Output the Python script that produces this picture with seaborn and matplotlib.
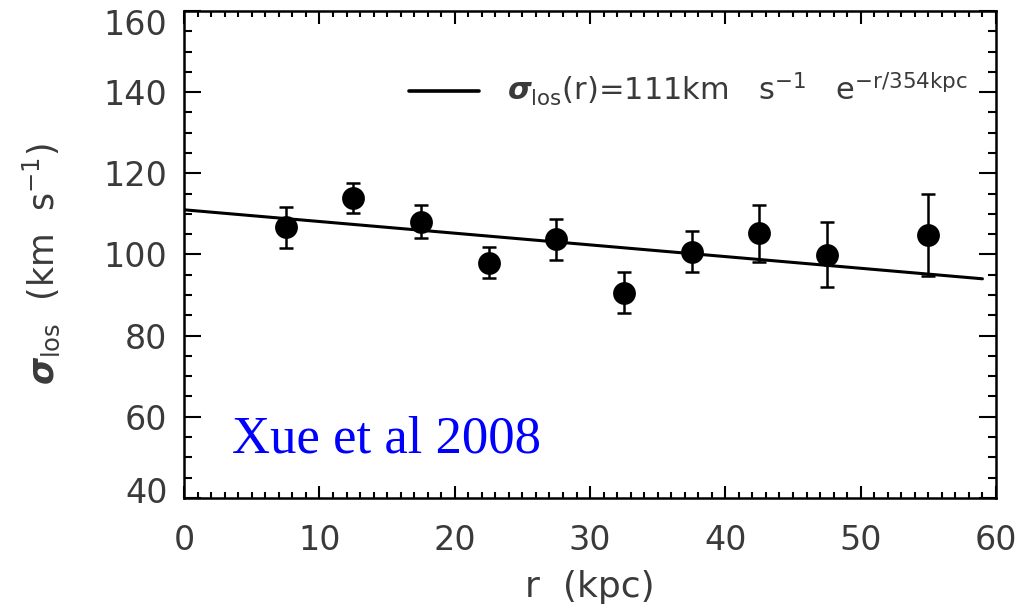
import numpy as np
import pandas as pd
import matplotlib
matplotlib.use("Agg")
import matplotlib.pyplot as plt
import matplotlib.transforms as mtransforms
import seaborn as sns
from matplotlib.ticker import MultipleLocator
from matplotlib.lines import Line2D

# ---- data ----
r_kpc = [7.5, 12.5, 17.5, 22.5, 27.5, 32.5, 37.5, 42.5, 47.5, 55.0]
sigma_los = [106.7, 113.9, 108.1, 98.0, 103.7, 90.6, 100.7, 105.2, 99.9, 104.8]
sigma_err = [5.1, 3.8, 4.0, 3.9, 5.1, 5.0, 5.0, 7.0, 8.0, 10.0]

fit_r = [0.0, 59.0]
fit_sigma = [111.0, 94.0]

x_ticks = [0, 10, 20, 30, 40, 50, 60]
y_ticks = [40, 60, 80, 100, 120, 140, 160]

legend_label = r"$\sigma_{\mathrm{los}}$(r)=111km   s$^{-1}$   e$^{-\mathrm{r/354kpc}}$"
annotation = "Xue et al 2008"

sns.set_theme(style="ticks")
plt.rcParams["font.family"] = ["DejaVu Sans"]
plt.rcParams["mathtext.fontset"] = "custom"
plt.rcParams["mathtext.rm"] = "DejaVu Sans"
plt.rcParams["mathtext.it"] = "DejaVu Sans:italic:bold"
plt.rcParams["mathtext.bf"] = "DejaVu Sans:bold"

txt = "#3a3a3a"

fig = plt.figure(figsize=(10.23, 6.08), dpi=100)
ax = fig.add_axes([0.180, 0.181, 0.7936, 0.801])

df = pd.DataFrame({"r": r_kpc, "sigma": sigma_los, "err": sigma_err})
fit_df = pd.DataFrame({"r": fit_r, "sigma": fit_sigma})

sns.lineplot(data=fit_df, x="r", y="sigma", ax=ax, color="black", linewidth=2.2,
             legend=False)
ax.errorbar(df["r"], df["sigma"], yerr=df["err"], fmt="none", ecolor="black",
            elinewidth=1.8, capsize=5, capthick=1.8, zorder=3)
sns.scatterplot(data=df, x="r", y="sigma", ax=ax, color="black", s=270,
                edgecolor="black", linewidth=0, zorder=4, legend=False)

ax.set_xlim(0, 60)
ax.set_ylim(40, 160)
ax.set_xticks(x_ticks)
ax.set_yticks(y_ticks)
ax.xaxis.set_minor_locator(MultipleLocator(1))
ax.yaxis.set_minor_locator(MultipleLocator(5))
ax.tick_params(axis="both", which="both", direction="in", top=True, right=True,
               colors="black", labelcolor=txt)
ax.tick_params(axis="y", which="major", length=12, width=1.5, labelsize=24, pad=12)
ax.tick_params(axis="y", which="minor", length=6, width=1.5)
ax.tick_params(axis="x", which="major", length=9, width=1.5, labelsize=24, pad=19)
ax.tick_params(axis="x", which="minor", length=4.5, width=1.5)
for s in ax.spines.values():
    s.set_linewidth(1.8)
    s.set_color("black")

# shift the end labels inward like the reference
fig.canvas.draw()
ylabels = ax.get_yticklabels()
ylabels[-1].set_transform(ylabels[-1].get_transform() +
                          mtransforms.ScaledTranslation(0, -11 / 100, fig.dpi_scale_trans))
ylabels[0].set_transform(ylabels[0].get_transform() +
                         mtransforms.ScaledTranslation(0, 8 / 100, fig.dpi_scale_trans))

ax.set_xlabel("r  (kpc)", fontsize=26, color=txt, labelpad=9)
ax.set_ylabel(r"$\sigma_{\mathrm{los}}$  (km  s$^{-1}$)", fontsize=25, color=txt)
ax.yaxis.set_label_coords(-0.150, 0.48)

handle = Line2D([], [], color="black", linewidth=2.6)
leg = ax.legend([handle], [legend_label], loc="center right",
                bbox_to_anchor=(0.965, 0.838), frameon=False, fontsize=22,
                handlelength=2.3, handletextpad=0.9, borderpad=0, borderaxespad=0)
for t in leg.get_texts():
    t.set_color(txt)

ax.text(0.059, 0.093, annotation, transform=ax.transAxes, color="#0000FF",
        fontsize=38, family=["Liberation Serif", "DejaVu Serif"], ha="left",
        va="baseline")

fig.savefig("out.png", dpi=100)
